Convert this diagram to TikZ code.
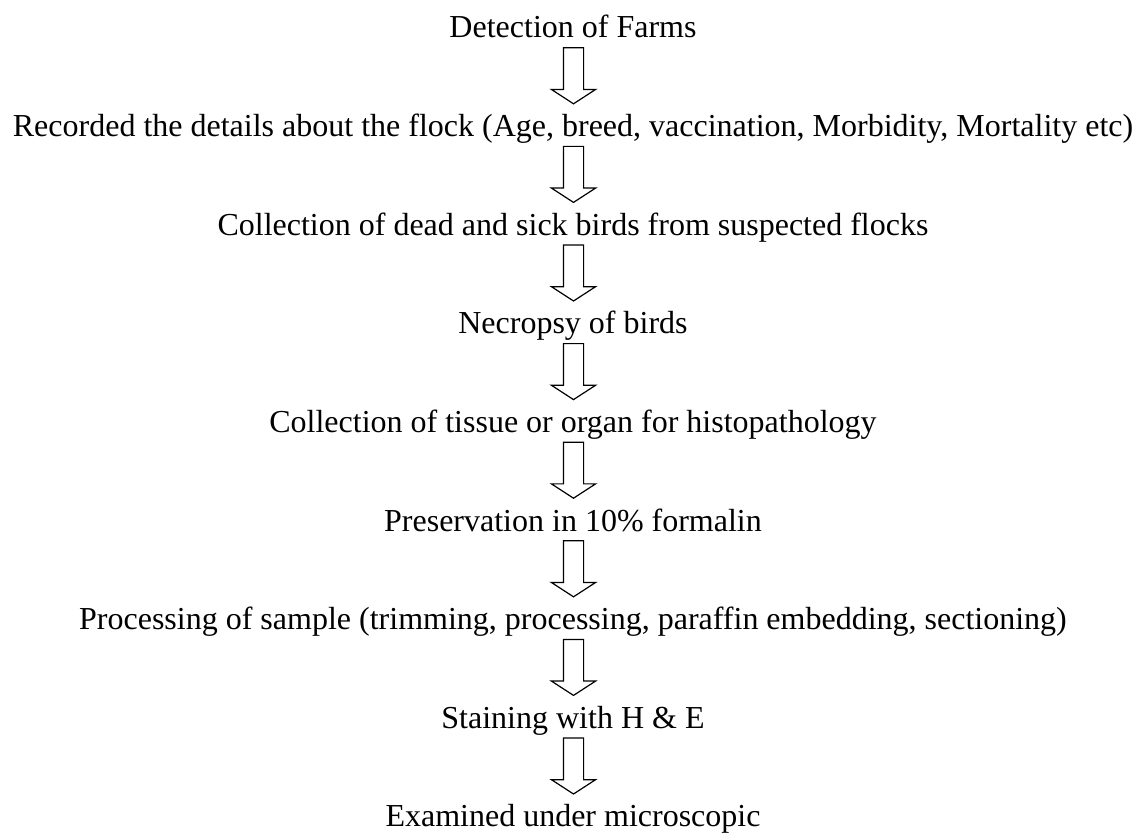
\documentclass[tikz,border=0pt]{standalone}
\usepackage{fontspec}
\setmainfont{Liberation Serif}
\usetikzlibrary{shapes.arrows}

\tikzset{
  step text/.style={anchor=base, inner sep=0pt, font=\fontsize{16}{19}\selectfont},
  down block/.style={draw, line width=0.6pt, single arrow, rotate=-90,
    minimum height=28pt, inner xsep=0pt, inner ysep=4.75pt, single arrow head extend=6pt,
    single arrow tip angle=114, single arrow head indent=0pt, anchor=tail}
}

\begin{document}
\begin{tikzpicture}[x=0.5pt,y=-0.5pt]
              \useasboundingbox (0,0) rectangle (1138,834);

              \node [step text] (A) at (573,38) {Detection of Farms};
              \node [step text] (B) at (573,136.6) {Recorded the details about the flock (Age, breed, vaccination, Morbidity, Mortality etc)};
              \node [step text] (C) at (573,235.2) {Collection of dead and sick birds from suspected flocks};
              \node [step text] (D) at (573,333.8) {Necropsy of birds};
              \node [step text] (E) at (573,432.4) {Collection of tissue or organ for histopathology};
              \node [step text] (F) at (573,531) {Preservation in 10\% formalin};
              \node [step text] (G) at (573,629.6) {Processing of sample (trimming, processing, paraffin embedding, sectioning)};
              \node [step text] (H) at (573,728.2) {Staining with H \& E};
              \node [step text] (I) at (573,826.8) {Examined under microscopic};

              \node [down block] (AB) at (573.5,47.2) {};
              \node [down block] (BC) at (573.5,145.8) {};
              \node [down block] (CD) at (573.5,244.4) {};
              \node [down block] (DE) at (573.5,343) {};
              \node [down block] (EF) at (573.5,441.6) {};
              \node [down block] (FG) at (573.5,540.2) {};
              \node [down block] (GH) at (573.5,638.8) {};
              \node [down block] (HI) at (573.5,737.4) {};
\end{tikzpicture}
\end{document}
